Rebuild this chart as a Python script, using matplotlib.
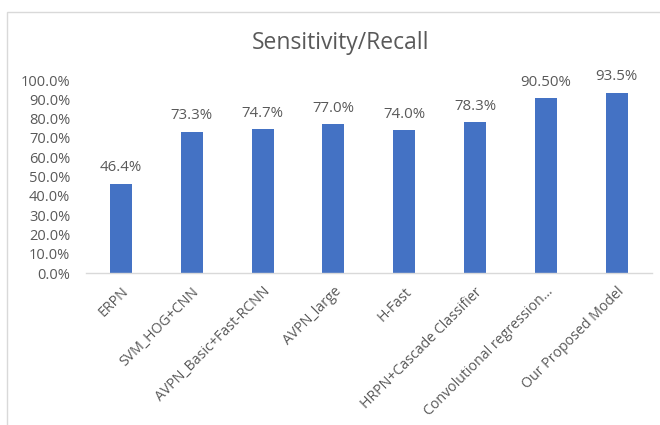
import matplotlib
matplotlib.use("Agg")
import matplotlib.pyplot as plt
from matplotlib.patches import Rectangle
from matplotlib.ticker import FuncFormatter, MultipleLocator

categories = ["ERPN", "SVM_HOG+CNN", "AVPN_Basic+Fast-RCNN", "AVPN_large",
              "H-Fast", "HRPN+Cascade Classifier", "Convolutional regression…",
              "Our Proposed Model"]
values = [46.4, 73.3, 74.7, 77.0, 74.0, 78.3, 90.5, 93.5]
value_labels = ["46.4%", "73.3%", "74.7%", "77.0%", "74.0%", "78.3%", "90.50%", "93.5%"]

plt.rcParams['font.family'] = ['Open Sans', 'DejaVu Sans']
text_gray = "#595959"
bar_color = "#4472C4"

fig = plt.figure(figsize=(6.6, 4.25), dpi=100)
W, H = 660, 425
# chart border (only top and left visible)
fig.patches.append(Rectangle((7 / W, -0.1), 1.2, (H - 12) / H + 0.1,
                             transform=fig.transFigure, fill=False,
                             edgecolor="#D9D9D9", linewidth=1.0))

ax = fig.add_axes([85.6 / W, 1 - 273.3 / H, (652 - 85.6) / W, (273.3 - 80) / H])
x = range(len(categories))
ax.bar(x, values, width=0.31, color=bar_color, zorder=2)
ax.set_xlim(-0.5, len(categories) - 0.5)
ax.set_ylim(0, 100)
ax.yaxis.set_major_locator(MultipleLocator(10))
ax.yaxis.set_major_formatter(FuncFormatter(lambda v, p: f"{v:.1f}%"))

for i, (v, lab) in enumerate(zip(values, value_labels)):
    ax.annotate(lab, (i, v), xytext=(0, 6), textcoords="offset points",
                ha="center", va="bottom", fontsize=10.8, color=text_gray)

ax.set_xticks(list(x))
ax.set_xticklabels(categories, rotation=45, ha="right", rotation_mode="anchor",
                   fontsize=10.2, color=text_gray)
ax.tick_params(axis="x", length=0, pad=8)
ax.tick_params(axis="y", length=0, pad=11, labelsize=10.5, labelcolor=text_gray)
for s in ["top", "right", "left"]:
    ax.spines[s].set_visible(False)
ax.spines["bottom"].set_color("#D9D9D9")
ax.spines["bottom"].set_linewidth(1.0)

fig.text(341 / W, 1 - 43 / H, "Sensitivity/Recall", ha="center", va="center",
         fontsize=16.5, color=text_gray)

fig.savefig("out.png", dpi=100)
